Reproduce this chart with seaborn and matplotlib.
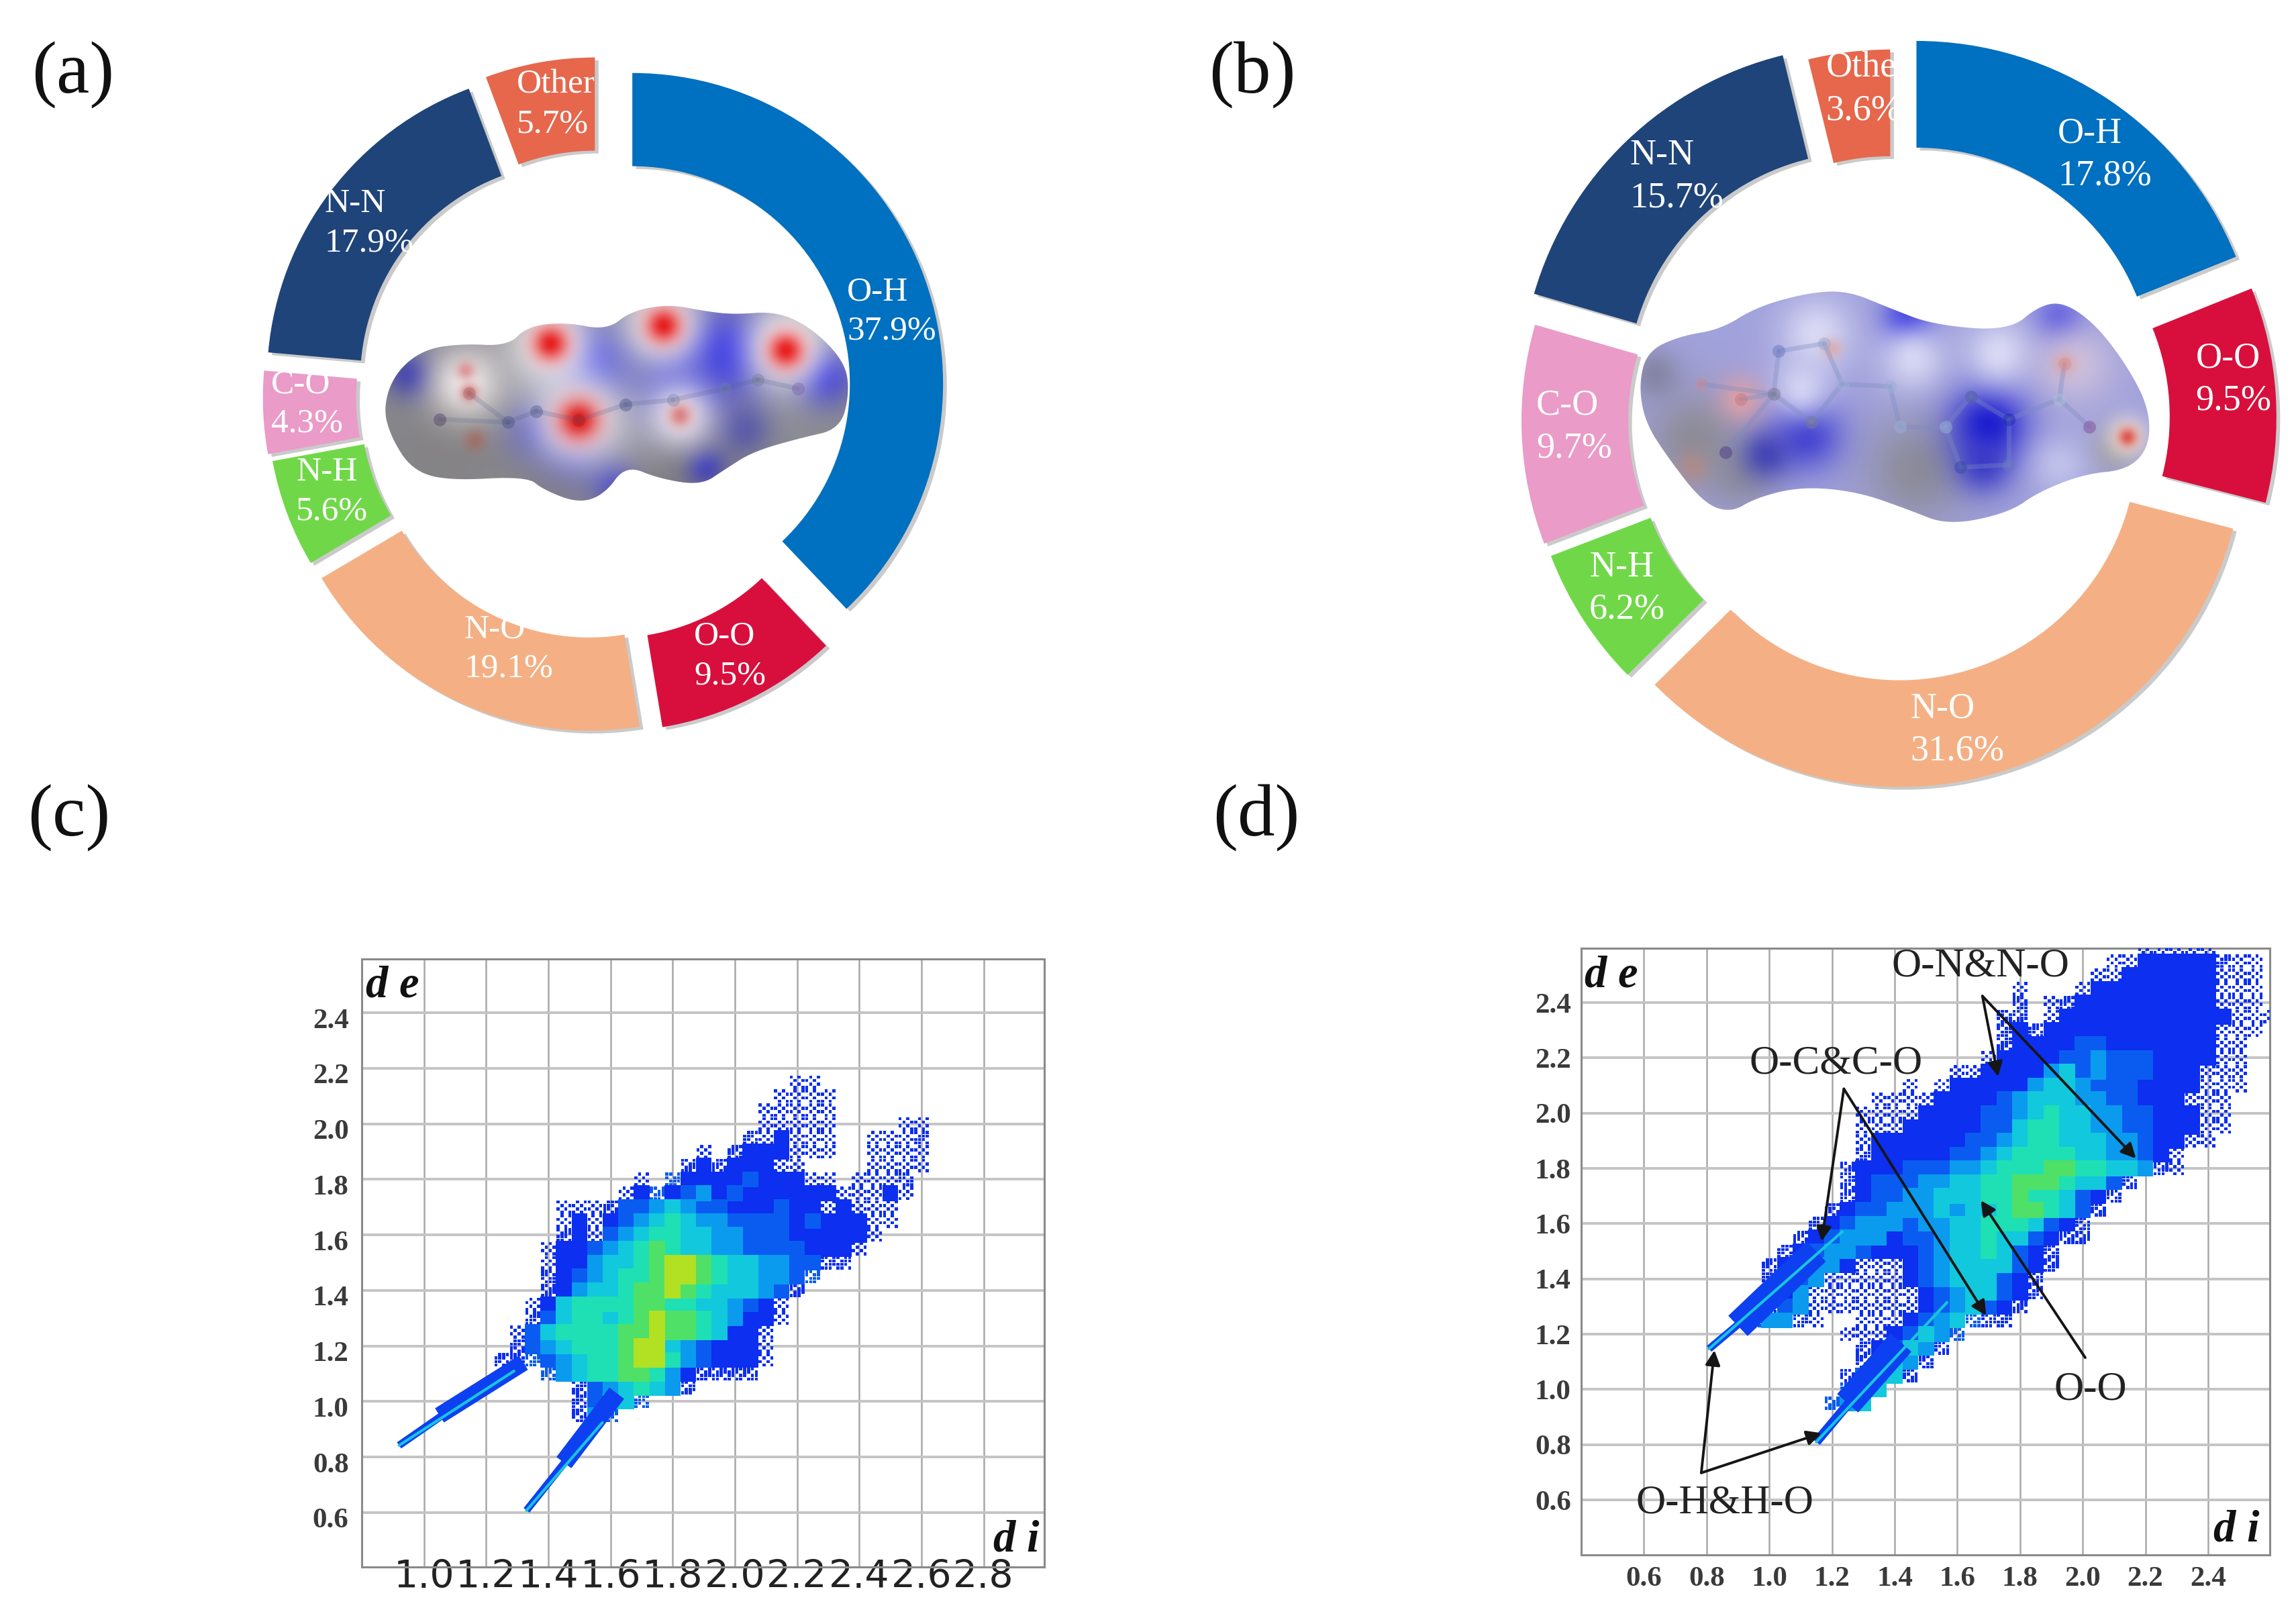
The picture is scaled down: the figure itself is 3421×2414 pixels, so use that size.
import numpy as np
import pandas as pd
import matplotlib
matplotlib.use("Agg")
import matplotlib.pyplot as plt
import matplotlib.patheffects as pe
from matplotlib.patches import Polygon
from matplotlib.transforms import ScaledTranslation
import seaborn as sns

W, H = 3421, 2414
SERIF = "Liberation Serif"

# ---------- donut data ----------
pair_names = ["O-H", "O-O", "N-O", "N-H", "C-O", "N-N", "Other"]
values_a = [37.9, 9.5, 19.1, 5.6, 4.3, 17.9, 5.7]
values_b = [17.8, 9.5, 31.6, 6.2, 9.7, 15.7, 3.6]
pair_colors = ["#0070C0", "#D80F3C", "#F4B084", "#70D848", "#EA9BC8", "#1F4479", "#E6674C"]
explode_a = [0.112, 0.086, 0.083, 0.075, 0.085, 0.090, 0.093]
explode_b = [0.120, 0.113, 0.070, 0.072, 0.080, 0.120, 0.075]

# ---------- fingerprint data: density level per 0.05 cell ----------
# '.' empty, 1 sparse ... 8 densest
levels_c_de = [2.15, 2.10, 2.05, 2.00, 1.95, 1.90, 1.85, 1.80, 1.75, 1.70, 1.65, 1.60, 1.55, 1.50,
               1.45, 1.40, 1.35, 1.30, 1.25, 1.20, 1.15, 1.10, 1.05, 1.00, 0.95]
levels_c_di0 = 0.90
levels_c = [
    "..........................11",
    ".........................1111",
    "........................11111",
    "........................11111....11",
    ".......................212111..1112",
    "....................1.2222111..1111",
    "...................22222211....1111",
    "................1.32222322211.1112",
    "...............1232342322222211121",
    "...........1112334543322232212111",
    "...........1212345654433332322211",
    "...........221345665544333222221",
    "..........122345676554433332221",
    "..........12245567887655443322",
    "..........223456678876554433",
    "..........22455677876555432",
    ".........12566667766554321",
    ".........23566567877654221",
    "........13566667787765221",
    "........23456667885432221",
    ".......223345667886432221",
    "..........34566776422222",
    "............23456542",
    "............23553",
    "............243",
]
levels_d_de = [2.60, 2.55, 2.50, 2.45, 2.40, 2.35, 2.30, 2.25, 2.20, 2.15, 2.10, 2.05, 2.00, 1.95,
               1.90, 1.85, 1.80, 1.75, 1.70, 1.65, 1.60, 1.55, 1.50, 1.45, 1.40, 1.35, 1.30, 1.25,
               1.20, 1.15, 1.10, 1.05, 1.00, 0.95]
levels_d_di0 = 0.80
levels_d = [
    "............................11111",
    "..........................1122222211",
    ".........................11222222111",
    "....................1...122222222111",
    "....................2.12222222222111",
    "...................22.122222222222111",
    "...................22222222222222111",
    "...................2222233222222211",
    "..................12222334333222211",
    "................1122224534333222111",
    ".............1.12222245543332222111",
    "...........11112222345554433222111",
    "..........111122223345655443322211",
    "..........111222223356655443322211",
    "..........12222223345665554432211",
    "..........222222334566665544321",
    ".........2222333445666776655421",
    ".........2233344556677765532",
    ".........223344555667665322",
    "........223344454556776532",
    ".......223444344556665322",
    "......2234442334556553222",
    ".....223443222345565322",
    "....2234421112345555322",
    "....223411111234555322",
    "....224111111123455322",
    "....23411111112345322",
    "...34421..1112345322",
    ".........11123543",
    "..........223542",
    "..........23542",
    ".........23452",
    ".........345",
    "........345",
]
level_colors = {1: "#0c2ff0", 2: "#0c2ff0", 3: "#0a5cf0", 4: "#0a9bee", 5: "#12c8dc",
                6: "#1fdfb4", 7: "#4fe068", 8: "#b2e022"}
# thin tails: (di values, de values) of each spike, with the blue body around it
tails_c = [([0.92, 1.29], [0.842, 1.11]), ([1.33, 1.574], [0.608, 0.924])]
bodies_c = [([0.92, 1.2], [0.842, 1.06], 8), ([1.05, 1.32], [0.95, 1.14], 18),
            ([1.33, 1.58], [0.608, 0.96], 8), ([1.45, 1.62], [0.78, 1.03], 20)]
tails_d = [([0.808, 1.233], [1.147, 1.571]), ([1.15, 1.567], [0.81, 1.315])]
bodies_d = [([0.808, 1.0], [1.147, 1.33], 8), ([0.9, 1.15], [1.23, 1.5], 30),
            ([1.15, 1.35], [0.81, 1.08], 10), ([1.25, 1.42], [0.95, 1.17], 30)]

ticks_c_x = [1.0, 1.2, 1.4, 1.6, 1.8, 2.0, 2.2, 2.4, 2.6, 2.8]
ticks_d_x = [0.6, 0.8, 1.0, 1.2, 1.4, 1.6, 1.8, 2.0, 2.2, 2.4]
ticks_y = [0.6, 0.8, 1.0, 1.2, 1.4, 1.6, 1.8, 2.0, 2.2, 2.4]

sns.set_theme(style="white")
plt.rcParams["font.family"] = [SERIF, "DejaVu Serif"]
fig = plt.figure(figsize=(W / 100, H / 100), dpi=100, facecolor="white")


def box_ax(left, top, right, bottom, **kw):
    return fig.add_axes([left / W, 1 - bottom / H, (right - left) / W, (bottom - top) / H], **kw)


def donut(values, explode, cx, cy, R, width):
    half = R * 1.35
    ax = box_ax(cx - half, cy - half, cx + half, cy + half)
    wedges, _ = ax.pie(values, colors=sns.color_palette(pair_colors), explode=explode, startangle=90,
                       counterclock=False, radius=1, wedgeprops=dict(width=width, linewidth=0))
    for w in wedges:
        w.set_path_effects([pe.withSimplePatchShadow(offset=(4, -3), shadow_rgbFace="#8a8a8a", alpha=0.45)])
    ax.set_xlim(-1.35, 1.35)
    ax.set_ylim(-1.35, 1.35)
    ax.set_aspect("equal")
    return ax


donut(values_a, explode_a, 894, 591, 463, 0.30)
donut(values_b, explode_b, 2821, 625, 513, 0.31)


def fingerprint(rows, des, di0, box, xlim, ylim, xticks, tails, bodies, marker_size):
    ax = box_ax(*box)
    width = max(len(r) for r in rows)
    grid = {(i, j): int(ch) for j, row in enumerate(rows) for i, ch in enumerate(row) if ch != "."}
    solid, dots = [], []
    for (i, j), lev in grid.items():
        di, de = di0 + 0.05 * i, des[j]
        on_edge = any((i + a, j + b) not in grid for a, b in [(1, 0), (-1, 0), (0, 1), (0, -1)])
        if lev >= 4 or (lev >= 2 and not on_edge):
            solid.append((di, de, lev))
            continue
        # sparse or rim cells are shown as a speckle of small dots inside the cell
        skip = 2 if lev == 1 else 4
        for a in range(4):
            for b in range(4):
                if (a * 3 + b * 5 + i * 7 + j * 11) % skip != 0:
                    dots.append((di + (a - 1.5) * 0.0125, de + (b - 1.5) * 0.0125, lev))
    df = pd.DataFrame(solid, columns=["di", "de", "level"]).sort_values("level")
    df_dots = pd.DataFrame(dots, columns=["di", "de", "level"])
    ax.set_axisbelow(True)
    sns.scatterplot(data=df_dots, x="di", y="de", hue="level", palette=level_colors, marker="s",
                    s=11, linewidth=0, legend=False, ax=ax, zorder=3)
    sns.scatterplot(data=df, x="di", y="de", hue="level", palette=level_colors, marker="s",
                    s=marker_size, linewidth=0, legend=False, ax=ax, zorder=3)
    for xs, ys, lw in bodies:
        ax.plot(xs, ys, color="#0c40f0", linewidth=lw, solid_capstyle="butt", zorder=3)
    for xs, ys in tails:
        sns.lineplot(x=xs, y=ys, color="#18c4dc", linewidth=3.0, estimator=None, sort=False,
                     legend=False, ax=ax, zorder=4)
    ax.set_xlim(*xlim)
    ax.set_ylim(*ylim)
    ax.set_xlabel("")
    ax.set_ylabel("")
    ax.set_xticks(xticks)
    ax.set_yticks(ticks_y)
    ax.set_yticklabels([f"{t:.1f}" for t in ticks_y], fontweight="bold", fontsize=31, color="#3a3a3a",
                       family=SERIF)
    ax.xaxis.grid(True, color="#a8a8a8", linewidth=1.8)
    ax.yaxis.grid(True, color="#c4c4c4", linewidth=2.8)
    for s in ax.spines.values():
        s.set_color("#8a8a8a")
        s.set_linewidth(2.2)
        s.set_visible(True)
    ax.tick_params(length=0)
    return ax


ax_c = fingerprint(levels_c, levels_c_de, levels_c_di0, (539, 1429, 1556, 2335), (0.80, 2.995),
                   (0.404, 2.594), ticks_c_x, tails_c, bodies_c, 290)
ax_c.set_xticklabels([f"{t:.1f}" for t in ticks_c_x], fontsize=41, color="#222222", family="DejaVu Sans")
ax_c.tick_params(axis="x", pad=-9)
ax_c.tick_params(axis="y", pad=14)
for lb in ax_c.get_yticklabels():
    lb.set_transform(lb.get_transform() + ScaledTranslation(0, -8 / 100, fig.dpi_scale_trans))

ax_d = fingerprint(levels_d, levels_d_de, levels_d_di0, (2356, 1413, 3382, 2317), (0.40, 2.597),
                   (0.401, 2.597), ticks_d_x, tails_d, bodies_d, 290)
ax_d.set_xticklabels([f"{t:.1f}" for t in ticks_d_x], fontsize=31, fontweight="bold", color="#3a3a3a",
                     family=SERIF)
ax_d.tick_params(axis="x", pad=12)
ax_d.tick_params(axis="y", pad=11)

# ---------- annotations on (d) ----------
note_kw = dict(fontsize=44, color="#222222", ha="center", va="center", family=SERIF, zorder=6)
ax_d.text(1.675, 2.533, "O-N&N-O", **note_kw)
ax_d.text(1.212, 2.18, "O-C&C-O", **note_kw)
ax_d.text(2.025, 1.0, "O-O", **note_kw)
ax_d.text(0.858, 0.589, "O-H&H-O", **note_kw)
arrows = [((1.68, 2.424), (1.73, 2.132)), ((1.68, 2.424), (2.17, 1.836)),
          ((1.238, 2.088), (1.167, 1.536)), ((1.238, 2.088), (1.692, 1.267)),
          ((2.008, 1.115), (1.675, 1.684)),
          ((0.783, 0.698), (0.825, 1.142)), ((0.783, 0.698), (1.167, 0.842))]
for a, b in arrows:
    ax_d.annotate("", xy=b, xytext=a, zorder=7,
                  arrowprops=dict(arrowstyle="-|>,head_length=1.1,head_width=0.55", color="#151515",
                                  lw=2.8, shrinkA=0, shrinkB=0))

# ---------- overlay in figure pixels: titles, labels, molecule surfaces ----------
ov = fig.add_axes([0, 0, 1, 1], zorder=10)
ov.set_xlim(0, W)
ov.set_ylim(H, 0)
ov.axis("off")
ov.patch.set_alpha(0)

for s, x, y in [("(a)", 109, 112), ("(b)", 1866, 112), ("(c)", 103, 1219), ("(d)", 1872, 1219)]:
    ov.text(x, y, s, fontsize=80, color="#111111", ha="center", va="center", family=SERIF)

labels_a = [(1300, 619), (975, 1385), (487, 1370), (130, 1020), (77, 825), (190, 423), (598, 158)]
labels_b = [(1097, 267), (1370, 712), (805, 1405), (170, 1125), (65, 805), (250, 310), (638, 137)]
for name, val, (zx, zy) in zip(pair_names, values_a, labels_a):
    ov.text(350 + zx / 1.425, 50 + zy / 1.493, f"{name}\n{val}%", color="white", fontsize=37, ha="left",
            va="center", linespacing=1.33, family=SERIF)
for name, val, (zx, zy) in zip(pair_names, values_b, labels_b):
    ov.text(2240 + zx / 1.328, 30 + zy / 1.328, f"{name}\n{val}%", color="white", fontsize=39, ha="left",
            va="center", linespacing=1.33, family=SERIF)

for s, x, y, ha in [("d e", 545, 1469, "left"), ("d i", 1548, 2295, "right"),
                    ("d e", 2361, 1454, "left"), ("d i", 3366, 2280, "right")]:
    ov.text(x, y, s, fontsize=48, fontweight="bold", style="italic", ha=ha, va="center",
            color="#111111", family=SERIF)


def hexrgb(c):
    return np.array(matplotlib.colors.to_rgb(c))


def surface(outline, spots, base, bonds, atoms, sx, sy, ox, oy, bond_color, bond_alpha):
    pts = np.array(outline, float)
    for _ in range(3):
        nxt = np.roll(pts, -1, axis=0)
        pts = np.column_stack([0.75 * pts + 0.25 * nxt, 0.25 * pts + 0.75 * nxt]).reshape(-1, 2)
    pts = pts / [sx, sy] + [ox, oy]
    x0, x1, y0, y1 = pts[:, 0].min() - 5, pts[:, 0].max() + 5, pts[:, 1].min() - 5, pts[:, 1].max() + 5
    gx, gy = np.meshgrid(np.arange(x0, x1), np.arange(y0, y1))
    img = np.ones(gx.shape + (3,)) * hexrgb(base)
    for zx, zy, r, col, k in spots:
        px, py = ox + zx / sx, oy + zy / sy
        w = k * np.exp(-((gx - px) ** 2 + (gy - py) ** 2) / (2 * (r / sx) ** 2))
        img = img * (1 - w[..., None]) + hexrgb(col) * w[..., None]
    im = ov.imshow(img, extent=(x0, x1, y1, y0), aspect="auto", zorder=2, interpolation="bilinear")
    im.set_clip_path(Polygon(pts, closed=True, transform=ov.transData))
    for i, j in bonds:
        ov.plot([ox + atoms[i][0] / sx, ox + atoms[j][0] / sx], [oy + atoms[i][1] / sy, oy + atoms[j][1] / sy],
                color=bond_color, alpha=bond_alpha, lw=5, zorder=3)
    for zx, zy, col in atoms:
        ov.scatter([ox + zx / sx], [oy + zy / sy], s=190, color=col, alpha=bond_alpha + 0.15, linewidth=0, zorder=4)
    ov.set_xlim(0, W)
    ov.set_ylim(H, 0)


outline_a = [(315, 830), (340, 755), (400, 703), (480, 690), (580, 695), (620, 652), (700, 642), (790, 660),
             (840, 618), (920, 602), (1000, 618), (1060, 625), (1150, 618), (1225, 655), (1295, 730),
             (1305, 800), (1285, 880), (1200, 900), (1100, 930), (1040, 970), (990, 1005), (900, 990),
             (830, 960), (785, 1025), (730, 1045), (655, 1015), (620, 985), (450, 995), (375, 970), (330, 895)]
spots_a = [(700, 950, 70, "#6e6a6a", .8), (960, 930, 70, "#6e6a6a", .8), (450, 900, 110, "#7d7a7a", .6),
           (1040, 710, 70, "#1a18e0", .95), (760, 730, 60, "#3030e0", .85), (720, 930, 50, "#3a3ad0", .7),
           (940, 780, 70, "#3535d8", .8), (1250, 760, 45, "#2020d8", .9), (370, 760, 35, "#3030b0", .8),
           (1080, 880, 40, "#3a3ab0", .6), (800, 1000, 35, "#4040c0", .8), (1000, 965, 30, "#3030c0", .8),
           (640, 880, 45, "#3838c8", .7), (670, 690, 62, "#ffffff", 1), (910, 650, 60, "#ffffff", 1),
           (1170, 700, 66, "#ffffff", 1), (730, 860, 72, "#ffffff", 1), (945, 850, 55, "#f4f0f4", .95),
           (490, 780, 55, "#f4eeee", .95), (670, 690, 27, "#e62020", 1), (910, 650, 27, "#e62020", 1),
           (1170, 705, 27, "#e82020", 1), (730, 860, 32, "#dd1c1c", 1), (945, 850, 18, "#d87878", .9),
           (490, 750, 14, "#dc9090", .9), (497, 800, 13, "#c87070", .9), (510, 905, 16, "#a86050", .6)]
atoms_a = [(435, 858, "#402858"), (497, 800, "#b06060"), (580, 865, "#3a4a78"), (640, 840, "#3a4a78"),
           (730, 860, "#a02020"), (830, 825, "#304070"), (930, 815, "#7080a8"), (1040, 790, "#7080a8"),
           (1110, 770, "#707888"), (1195, 790, "#7858a0")]
bonds_a = [(0, 2), (1, 2), (2, 3), (3, 4), (4, 5), (5, 6), (6, 7), (7, 8), (8, 9)]
surface(outline_a, spots_a, "#8c8c92", bonds_a, atoms_a, 1.425, 1.493, 350, 50, "#50608c", 0.2)

outline_b = [(268, 720), (285, 655), (350, 625), (430, 612), (500, 568), (600, 540), (680, 535), (760, 568),
             (850, 603), (1000, 615), (1060, 565), (1110, 558), (1175, 605), (1238, 690), (1278, 770),
             (1278, 845), (1235, 890), (1150, 898), (1060, 933), (1000, 975), (880, 1000), (800, 968),
             (700, 933), (590, 923), (500, 945), (450, 975), (395, 955), (325, 865), (280, 795)]
spots_b = [(380, 830, 70, "#8c8a90", .9), (820, 890, 75, "#8a8a92", .9), (300, 700, 35, "#7a7a90", .7),
           (1210, 850, 35, "#9a9a9e", .9), (470, 900, 50, "#8a8a96", .8),
           (800, 590, 35, "#2020e0", .8), (600, 820, 50, "#3030d0", .85), (520, 860, 35, "#2a2ab0", .7),
           (960, 800, 55, "#1414d0", .95), (950, 880, 40, "#3030c8", .8), (1100, 590, 35, "#4040e0", .7),
           (620, 620, 50, "#dcdcf6", .95), (810, 670, 45, "#dcdcf6", .9), (980, 660, 45, "#e0e0f8", .9),
           (590, 730, 40, "#ddddf8", .85), (1130, 680, 55, "#d8c8dc", .8), (1100, 880, 40, "#c8c8ee", .8),
           (1235, 825, 28, "#f0e6e0", 1), (1235, 825, 14, "#dc5a50", 1), (470, 750, 32, "#e8a0a0", .8),
           (1110, 680, 16, "#dca0a0", .8), (650, 650, 14, "#e0a8a8", .8), (375, 885, 22, "#b88a80", .7)]
atoms_b = [(390, 720, "#c88a9a"), (440, 855, "#503a80"), (470, 750, "#c87a80"), (535, 740, "#7a7a90"),
           (545, 655, "#6878c0"), (610, 795, "#7a7a98"), (635, 640, "#9aa8d0"), (670, 720, "#9ab0d8"),
           (765, 725, "#9ab0d8"), (785, 805, "#9ab0d8"), (875, 805, "#9ab0d8"), (925, 745, "#5060a0"),
           (905, 885, "#3848a8"), (1000, 880, "#6878c0"), (1000, 790, "#2030b0"), (1100, 750, "#a8c0d8"),
           (1110, 680, "#d89090"), (1160, 805, "#805098")]
bonds_b = [(0, 3), (1, 3), (2, 3), (3, 4), (3, 5), (4, 6), (6, 7), (5, 7), (7, 8), (8, 9), (9, 10), (10, 11),
           (10, 12), (12, 13), (13, 14), (11, 14), (14, 15), (15, 16), (15, 17)]
surface(outline_b, spots_b, "#a2a2dc", bonds_b, atoms_b, 1.328, 1.328, 2240, 30, "#7c8cc0", 0.35)

fig.savefig("out.png", dpi=100)
